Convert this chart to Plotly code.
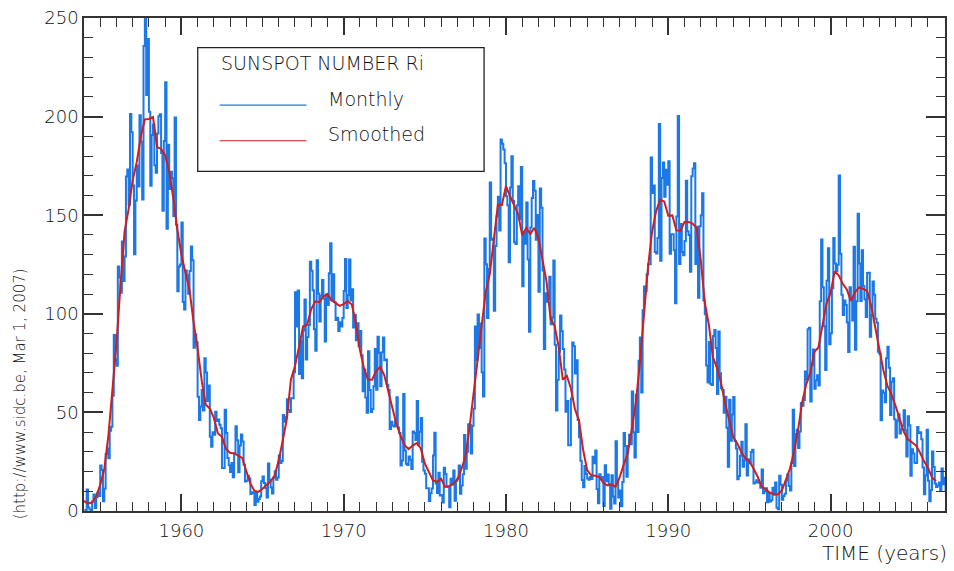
import numpy as np
import plotly.graph_objects as go

# International sunspot number Ri, monthly means, Jan 1954 - Feb 2007
monthly_start = 1954
monthly_ri = [
    # 1954
    0.2, 0.5, 10.9, 1.8, 0.8, 0.2, 4.8, 8.4, 1.5, 7.0, 9.2, 7.6,
    # 1955
    23.1, 20.8, 4.9, 11.3, 28.9, 31.7, 26.7, 40.7, 42.7, 58.5, 89.2, 76.9,
    # 1956
    73.6, 124.0, 118.4, 110.7, 136.6, 116.6, 129.1, 169.6, 173.2, 155.3, 201.3, 192.1,
    # 1957
    165.0, 130.2, 157.4, 175.2, 164.6, 200.7, 187.2, 158.0, 235.8, 253.8, 210.9, 239.4,
    # 1958
    202.5, 164.9, 190.7, 196.0, 175.3, 171.5, 191.4, 200.2, 201.2, 181.5, 152.3, 187.6,
    # 1959
    217.4, 143.1, 185.7, 163.3, 172.0, 168.7, 149.6, 199.6, 145.2, 111.4, 124.0, 125.0,
    # 1960
    146.3, 106.0, 102.2, 122.0, 119.6, 110.2, 121.7, 134.1, 127.2, 82.8, 89.6, 85.6,
    # 1961
    57.9, 46.1, 53.0, 61.4, 51.0, 77.4, 70.2, 55.8, 63.6, 37.7, 32.6, 39.9,
    # 1962
    38.7, 50.3, 45.6, 46.4, 43.7, 42.0, 21.8, 21.8, 51.3, 39.5, 26.9, 23.2,
    # 1963
    19.8, 24.4, 17.1, 29.3, 43.0, 35.9, 19.6, 33.2, 38.8, 35.3, 23.4, 14.9,
    # 1964
    15.3, 17.7, 16.5, 8.6, 9.5, 9.1, 3.1, 9.3, 4.7, 6.1, 7.4, 15.1,
    # 1965
    17.5, 14.2, 11.7, 6.8, 24.1, 15.9, 11.9, 8.9, 16.8, 20.1, 15.8, 17.0,
    # 1966
    28.2, 24.4, 25.3, 48.7, 45.3, 47.7, 56.7, 51.2, 50.2, 57.2, 57.2, 70.4,
    # 1967
    110.9, 93.6, 111.8, 69.5, 86.5, 67.3, 91.5, 107.2, 76.8, 88.2, 94.3, 126.4,
    # 1968
    121.8, 111.9, 92.2, 81.2, 127.2, 110.3, 96.1, 109.3, 117.2, 107.7, 86.0, 109.8,
    # 1969
    104.4, 120.5, 135.8, 106.8, 120.0, 106.0, 96.8, 98.0, 91.3, 95.7, 93.5, 97.9,
    # 1970
    111.5, 127.8, 102.9, 109.5, 127.5, 106.8, 112.5, 93.0, 99.5, 86.6, 95.2, 83.5,
    # 1971
    91.3, 79.0, 60.7, 71.8, 57.5, 49.8, 81.0, 61.4, 50.2, 51.7, 63.2, 82.2,
    # 1972
    61.5, 88.4, 80.1, 63.2, 80.5, 88.0, 76.5, 76.8, 64.0, 61.3, 41.6, 45.3,
    # 1973
    43.4, 42.9, 46.0, 57.7, 42.4, 39.5, 23.1, 25.6, 59.3, 30.7, 23.9, 23.3,
    # 1974
    27.6, 26.0, 21.3, 40.3, 39.5, 36.0, 55.8, 33.6, 40.2, 47.1, 25.0, 20.5,
    # 1975
    18.9, 11.5, 11.5, 5.1, 9.0, 11.4, 28.2, 39.7, 13.9, 9.1, 19.4, 7.8,
    # 1976
    8.1, 4.3, 21.9, 18.8, 12.4, 12.2, 1.9, 16.4, 13.5, 20.6, 5.2, 15.3,
    # 1977
    16.4, 23.1, 8.7, 12.9, 18.6, 38.5, 21.4, 30.1, 44.0, 43.8, 29.1, 43.2,
    # 1978
    51.9, 93.6, 76.5, 99.7, 82.7, 95.1, 70.4, 58.1, 138.2, 125.1, 97.9, 122.7,
    # 1979
    166.6, 137.5, 138.0, 101.5, 134.4, 149.5, 159.4, 142.2, 188.4, 186.2, 183.3, 176.3,
    # 1980
    159.6, 155.0, 126.2, 164.1, 179.9, 157.3, 136.3, 135.4, 155.0, 164.7, 147.9, 174.4,
    # 1981
    114.0, 141.3, 135.5, 156.4, 127.5, 90.9, 143.8, 158.7, 167.3, 162.4, 137.5, 150.1,
    # 1982
    111.2, 163.6, 153.8, 122.0, 82.2, 110.4, 106.1, 107.6, 118.8, 94.7, 98.1, 127.0,
    # 1983
    84.3, 51.0, 66.5, 80.7, 99.2, 91.1, 82.2, 71.8, 50.3, 55.8, 33.3, 33.4,
    # 1984
    57.0, 85.4, 83.5, 69.7, 76.4, 46.1, 37.4, 25.5, 15.7, 12.0, 22.8, 18.7,
    # 1985
    16.5, 15.9, 17.2, 16.2, 27.5, 24.2, 30.7, 11.1, 3.9, 18.6, 16.2, 17.3,
    # 1986
    2.5, 23.2, 15.1, 18.5, 13.7, 1.1, 18.1, 7.4, 3.8, 35.4, 15.2, 6.8,
    # 1987
    10.4, 2.4, 14.7, 39.6, 33.0, 17.4, 33.0, 38.7, 33.9, 60.6, 39.9, 27.1,
    # 1988
    59.0, 40.0, 76.2, 88.0, 60.1, 101.8, 113.8, 111.6, 120.1, 125.1, 125.1, 179.2,
    # 1989
    161.3, 165.1, 131.4, 130.6, 138.5, 196.2, 126.9, 168.9, 176.7, 159.4, 173.0, 165.5,
    # 1990
    177.3, 130.5, 140.3, 140.3, 132.2, 105.4, 149.4, 200.3, 125.2, 145.5, 131.4, 129.7,
    # 1991
    136.9, 167.5, 141.9, 140.0, 121.3, 169.7, 173.7, 176.3, 125.3, 144.1, 108.2, 144.4,
    # 1992
    150.0, 161.1, 106.7, 99.8, 73.8, 65.2, 85.7, 64.5, 63.9, 88.7, 91.8, 82.6,
    # 1993
    59.3, 91.0, 69.8, 62.2, 61.3, 49.8, 57.9, 42.2, 22.4, 56.4, 35.6, 48.9,
    # 1994
    57.8, 35.5, 31.7, 16.1, 17.8, 28.0, 35.1, 22.5, 25.7, 44.0, 18.0, 26.2,
    # 1995
    24.2, 29.9, 31.1, 14.0, 14.5, 15.6, 14.5, 14.3, 11.8, 21.1, 9.0, 10.0,
    # 1996
    11.5, 4.4, 9.2, 4.8, 5.5, 11.8, 8.2, 14.4, 1.6, 0.9, 17.9, 13.3,
    # 1997
    5.7, 7.6, 8.7, 15.5, 18.5, 12.7, 10.4, 24.4, 51.3, 22.8, 39.0, 41.2,
    # 1998
    31.9, 40.3, 54.8, 53.4, 56.3, 70.7, 66.6, 92.2, 92.9, 55.5, 74.0, 81.9,
    # 1999
    62.0, 66.3, 68.8, 63.7, 106.4, 137.7, 113.5, 93.7, 71.5, 116.7, 133.2, 84.6,
    # 2000
    90.1, 112.9, 138.5, 125.5, 121.6, 124.9, 170.1, 130.5, 109.7, 99.4, 106.8, 104.4,
    # 2001
    95.6, 80.6, 113.5, 107.7, 96.6, 134.0, 81.8, 106.4, 150.7, 125.5, 106.5, 132.2,
    # 2002
    114.1, 107.4, 98.4, 120.7, 120.8, 88.3, 99.6, 116.4, 109.6, 97.5, 95.5, 80.8,
    # 2003
    79.7, 46.0, 61.1, 60.0, 55.2, 77.4, 83.3, 72.7, 48.7, 65.5, 67.3, 46.5,
    # 2004
    37.3, 45.8, 49.1, 39.3, 41.5, 43.2, 51.1, 40.9, 27.7, 48.0, 43.5, 17.9,
    # 2005
    31.3, 29.2, 24.5, 24.4, 42.6, 39.6, 39.9, 36.4, 22.1, 8.5, 18.0, 41.2,
    # 2006
    15.3, 4.9, 10.6, 30.2, 22.3, 13.9, 12.2, 12.9, 14.4, 10.4, 21.5, 13.6,
    # 2007
    16.9, 10.6,
]

# Smoothed sunspot number, sampled every quarter from 1954.0 to 2006.5
smoothed_start = 1954.0
smoothed_ri = [
    5.1, 3.7, 4.4, 7.5,                 # 1954
    13.3, 21.2, 38.0, 60.2,             # 1955
    84.6, 114.7, 141.7, 153.1,          # 1956
    167.8, 176.9, 189.9, 198.6,         # 1957
    198.8, 199.8, 184.6, 183.6,         # 1958
    180.4, 172.2, 158.8, 142.8,         # 1959
    130.1, 120.8, 112.3, 95.8,          # 1960
    82.3, 66.2, 53.9, 52.0,             # 1961
    47.2, 39.3, 37.6, 31.5,             # 1962
    29.5, 29.2, 27.9, 26.9,             # 1963
    20.2, 14.0, 10.2, 9.7,              # 1964
    11.3, 13.0, 15.1, 17.9,             # 1965
    25.8, 35.9, 46.9, 66.7,             # 1966
    73.5, 83.3, 93.7, 94.5,             # 1967
    102.4, 106.3, 105.9, 108.8,         # 1968
    110.0, 106.9, 105.6, 104.0,         # 1969
    104.9, 106.5, 104.7, 95.4,          # 1970
    81.7, 72.3, 66.7, 66.6,             # 1971
    71.0, 73.0, 68.9, 60.8,             # 1972
    53.1, 44.0, 38.2, 33.4,             # 1973
    31.4, 33.2, 34.4, 31.7,             # 1974
    24.1, 20.2, 15.5, 14.8,             # 1975
    16.3, 12.2, 12.6, 13.7,             # 1976
    15.9, 21.2, 27.5, 42.0,             # 1977
    59.3, 73.5, 92.7, 111.0,            # 1978
    120.0, 138.6, 155.3, 155.2,         # 1979
    164.8, 159.6, 154.7, 150.5,         # 1980
    139.9, 143.5, 140.5, 143.6,         # 1981
    138.6, 127.1, 116.3, 97.4,          # 1982
    93.8, 83.1, 66.6, 68.6,             # 1983
    62.1, 51.6, 45.9, 31.2,             # 1984
    20.8, 18.1, 17.9, 17.2,             # 1985
    14.3, 13.0, 13.4, 12.3,             # 1986
    17.0, 23.4, 29.2, 41.5,             # 1987
    54.9, 74.9, 100.0, 123.6,           # 1988
    141.5, 152.1, 157.8, 157.0,         # 1989
    149.7, 149.9, 142.3, 142.1,         # 1990
    146.6, 146.6, 145.8, 143.4,         # 1991
    127.4, 105.6, 94.5, 78.0,           # 1992
    72.6, 64.9, 54.7, 46.8,             # 1993
    37.5, 34.3, 29.9, 26.6,             # 1994
    25.1, 21.5, 17.5, 12.5,             # 1995
    10.7, 9.3, 8.6, 8.4,                # 1996
    10.4, 15.6, 21.5, 30.2,             # 1997
    41.4, 55.2, 64.2, 70.1,             # 1998
    80.7, 82.9, 93.2, 105.2,            # 1999
    110.6, 121.5, 119.5, 115.2,         # 2000
    112.4, 106.5, 110.9, 113.4,         # 2001
    112.7, 111.6, 104.1, 93.0,          # 2002
    81.6, 71.5, 63.6, 59.1,             # 2003
    53.4, 46.3, 40.4, 36.5,             # 2004
    35.1, 33.3, 29.8, 25.3,             # 2005
    21.9, 17.0, 15.2,                   # 2006
]

y_tick_values = [0, 50, 100, 150, 200, 250]
x_tick_values = [1960, 1970, 1980, 1990, 2000]

# Time axes: monthly values sit at mid-month, smoothed values every 3 months
t_monthly = monthly_start + (np.arange(len(monthly_ri)) + 0.5) / 12.0
t_smoothed = smoothed_start + np.arange(len(smoothed_ri)) * 0.25

BLUE = "#1c78e4"
RED = "#d41c1c"
AXIS = "#333333"
TEXT = "#111111"
FONT = "DejaVu Sans, Verdana, sans-serif"

fig = go.Figure()
fig.add_trace(go.Scatter(
    x=t_monthly, y=monthly_ri, mode="lines", name="Monthly",
    line=dict(color=BLUE, width=2, shape="hvh"),
    hoverinfo="x+y",
))
fig.add_trace(go.Scatter(
    x=t_smoothed, y=smoothed_ri, mode="lines", name="Smoothed",
    line=dict(color=RED, width=2),
    hoverinfo="x+y",
))

axis_common = dict(
    showgrid=False, zeroline=False,
    showline=True, linecolor=AXIS, linewidth=1.5,
    mirror="allticks", ticks="inside", tickcolor=AXIS, tickwidth=1.5,
    tickfont=dict(family=FONT, size=18, color=TEXT, weight=300),
)

fig.update_xaxes(
    range=[1954.0, 2007.05],
    tickvals=x_tick_values, ticktext=[str(v) for v in x_tick_values],
    ticklen=17, ticklabelstandoff=3,
    minor=dict(ticks="inside", dtick=1, tick0=1954, ticklen=9,
               tickcolor=AXIS, tickwidth=1.2, showgrid=False),
    **axis_common,
)
fig.update_yaxes(
    range=[0, 250],
    tickvals=y_tick_values, ticktext=[str(v) for v in y_tick_values],
    ticklen=19,
    minor=dict(ticks="inside", dtick=10, tick0=0, ticklen=9,
               tickcolor=AXIS, tickwidth=1.2, showgrid=False),
    **axis_common,
)

# Boxed key in the upper-left part of the plot
legend_shapes = [
    dict(type="rect", xref="paper", yref="paper",
         x0=(198 - 84) / 863, x1=(485 - 84) / 863,
         y0=(511 - 168) / 498, y1=(511 - 43) / 498,
         line=dict(color="#222222", width=1.3), fillcolor="white", layer="above"),
    dict(type="line", xref="paper", yref="paper",
         x0=(220 - 84) / 863, x1=(307 - 84) / 863,
         y0=(511 - 101) / 498, y1=(511 - 101) / 498,
         line=dict(color=BLUE, width=1.2), layer="above"),
    dict(type="line", xref="paper", yref="paper",
         x0=(220 - 84) / 863, x1=(307 - 84) / 863,
         y0=(511 - 137) / 498, y1=(511 - 137) / 498,
         line=dict(color=RED, width=1.2), layer="above"),
]
for s in legend_shapes:
    fig.add_shape(**s)

def paper_note(text, px, py, size, xanchor="left", angle=0, yanchor="middle"):
    fig.add_annotation(
        text=text, xref="paper", yref="paper",
        x=(px - 84) / 863, y=(511 - py) / 498,
        xanchor=xanchor, yanchor=yanchor, showarrow=False, textangle=angle,
        font=dict(family=FONT, size=size, color=TEXT, weight=300),
    )

paper_note("SUNSPOT NUMBER Ri", 219, 58, 19)
paper_note("Monthly", 327, 95, 19)
paper_note("Smoothed", 327, 130, 19)
paper_note("TIME (years)", 951, 553, 20, xanchor="right")
paper_note("(http://www.sidc.be, Mar 1, 2007)", 20, 393, 15,
           xanchor="center", angle=-90)

fig.update_layout(
    width=954, height=571,
    margin=dict(l=84, r=7, t=13, b=60),
    paper_bgcolor="white", plot_bgcolor="white",
    showlegend=False,
    font=dict(family=FONT),
)

fig.write_html("out.html")
